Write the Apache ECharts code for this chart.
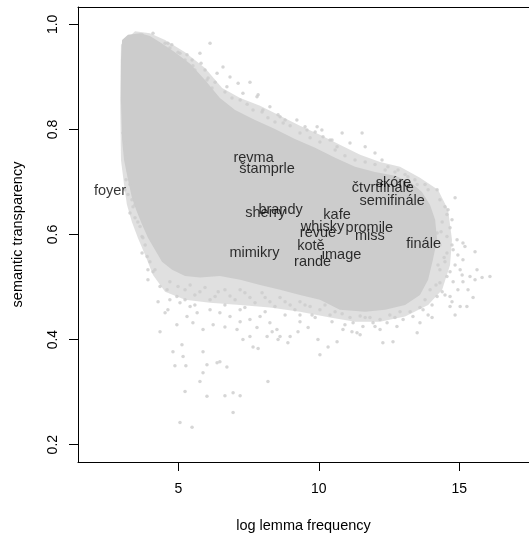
<!DOCTYPE html>
<html><head><meta charset="utf-8">
<script src="https://cdn.jsdelivr.net/npm/echarts@6/dist/echarts.min.js"></script>
<style>html,body{margin:0;padding:0;background:#fff}#c{width:529px;height:535px}</style>
</head><body><div id="c"></div>
<script>
// tick values
const xTicks = [5, 10, 15];
const yTicks = [0.2, 0.4, 0.6, 0.8, 1.0];

// dense core of the point cloud (outline)
const coreX = [3.00,3.21,3.64,3.99,4.35,4.88,5.42,5.95,6.48,7.02,7.73,8.44,9.15,9.87,10.58,11.29,12.00,12.71,13.25,13.67,13.96,14.14,14.21,14.06,13.89,13.60,13.07,12.36,11.65,10.75,10.04,9.33,8.62,7.91,7.20,6.48,5.77,5.24,4.78,4.42,4.17,3.92,3.71,3.53,3.35,3.21,3.07,3.00,2.96,2.96];
const coreY = [0.970,0.980,0.983,0.978,0.966,0.947,0.925,0.894,0.860,0.837,0.818,0.801,0.782,0.765,0.746,0.729,0.719,0.712,0.700,0.681,0.656,0.628,0.590,0.552,0.514,0.485,0.466,0.457,0.453,0.457,0.476,0.485,0.495,0.504,0.514,0.521,0.518,0.521,0.533,0.548,0.571,0.594,0.619,0.643,0.670,0.704,0.742,0.780,0.856,0.932];

// medium-density rim around the core (outline)
const rimX = [2.96,3.46,3.99,4.53,5.24,5.95,6.56,7.20,7.91,8.62,9.33,10.04,10.75,11.47,12.18,12.89,13.60,14.24,14.60,14.74,14.67,14.39,13.89,13.07,12.18,11.29,10.40,9.33,8.26,7.20,6.13,5.24,4.53,4.10,3.82,3.56,3.35,3.17,3.07,2.96,2.93];
const rimY = [0.961,0.987,0.983,0.970,0.947,0.917,0.879,0.860,0.845,0.826,0.807,0.790,0.771,0.752,0.738,0.729,0.708,0.685,0.647,0.590,0.542,0.495,0.466,0.444,0.434,0.434,0.442,0.453,0.461,0.466,0.470,0.476,0.491,0.523,0.561,0.594,0.624,0.657,0.695,0.742,0.856];

// scattered points outside the core
const upperX = [3.71,4.10,4.53,4.77,5.06,5.31,5.49,5.77,6.13,5.59,5.95,6.02,6.38,6.59,6.84,6.73,7.13,7.30,7.55,7.80,8.01,8.26,8.62,8.73,9.22,9.58,9.94,10.15,10.40,10.65,7.84,4.63,8.55,8.80,9.51,9.87,10.11,10.47,10.83,11.11,11.54,11.65,12.00,12.25,12.46,12.82,13.17,13.50,13.89,14.21,
  6.66,6.91,7.20,7.45,7.66,7.98,8.19,8.44,8.98,9.33,9.69,10.04,10.58,10.93,11.29,11.65,12.00,12.36,12.71,13.07,13.42,13.78,4.70,4.99,5.24,5.52,5.81,6.06,6.20,6.31];
const upperY = [0.980,0.983,0.964,0.961,0.945,0.942,0.932,0.945,0.964,0.913,0.913,0.894,0.907,0.919,0.900,0.881,0.888,0.869,0.890,0.862,0.837,0.843,0.824,0.812,0.818,0.799,0.805,0.786,0.780,0.767,0.866,0.964,0.828,0.818,0.805,0.795,0.799,0.780,0.793,0.774,0.793,0.767,0.755,0.742,0.729,0.723,0.710,0.695,0.685,0.685,
  0.871,0.860,0.856,0.848,0.837,0.833,0.822,0.814,0.807,0.793,0.784,0.776,0.761,0.750,0.742,0.738,0.733,0.723,0.719,0.714,0.704,0.695,0.955,0.947,0.932,0.921,0.926,0.898,0.879,0.890];

const rightX = [14.49,14.85,14.74,14.39,14.92,15.20,15.56,13.96,14.56,14.67,14.21,14.56,15.13,14.78,14.56,15.13,15.63,16.09,15.38,15.13,14.78,14.56,14.31,13.96,14.21,14.67,15.49,15.81,15.27,15.03,14.67,15.56,15.10,14.49,14.74,14.31,14.49,14.31,14.85,
  14.31,14.60,14.35,14.74,14.46,14.95,14.24,14.67,14.17,14.39,14.95,13.78,14.03,15.31,15.03];
const rightY = [0.653,0.670,0.628,0.624,0.590,0.577,0.567,0.641,0.638,0.613,0.603,0.596,0.584,0.571,0.565,0.552,0.533,0.520,0.520,0.510,0.510,0.520,0.508,0.495,0.482,0.482,0.480,0.518,0.463,0.463,0.463,0.514,0.523,0.485,0.472,0.580,0.548,0.533,0.542,
  0.666,0.647,0.605,0.580,0.556,0.561,0.542,0.529,0.504,0.491,0.495,0.476,0.466,0.495,0.533];

const lowerX = [13.71,13.35,13.00,12.78,12.43,12.18,11.93,11.57,11.22,11.36,10.86,10.65,12.28,12.64,13.50,13.60,8.19,10.04,10.33,8.90,9.97,9.26,9.62,8.55,8.34,11.18,11.47,12.00,11.65,10.47,10.93,13.89,14.03,14.85,7.66,7.84,7.30,6.66,6.24,5.88,5.52,5.31,5.67,5.42,5.06,4.95,6.13,6.48,6.84,7.20,7.55,7.91,8.26,8.51,8.62,8.98,9.33,9.76,8.16,7.80,7.09,7.55,7.20,5.88,5.24,5.59,5.95,6.31,6.66,7.02,7.37,7.73,8.09,8.44,8.80,9.15,9.51,10.04,10.40,11.11,12.53,13.25,
  4.70,4.99,5.42,5.77,6.13,6.42,6.84,7.20,7.55,7.98,8.26,8.62,8.98,9.33,9.69,9.87,10.22,10.58,10.83,11.47,11.82,12.18,12.71,12.89,13.60,5.24,5.59,6.66,7.37,8.09,8.80,9.33,4.70,4.63];
const lowerY = [0.457,0.444,0.438,0.425,0.432,0.419,0.432,0.425,0.432,0.413,0.419,0.396,0.394,0.396,0.413,0.432,0.320,0.371,0.386,0.394,0.400,0.415,0.423,0.400,0.415,0.415,0.409,0.425,0.442,0.434,0.428,0.447,0.442,0.447,0.386,0.383,0.400,0.424,0.428,0.419,0.432,0.444,0.451,0.463,0.470,0.482,0.457,0.451,0.444,0.457,0.438,0.444,0.432,0.419,0.406,0.406,0.434,0.447,0.406,0.423,0.419,0.406,0.434,0.377,0.495,0.485,0.499,0.482,0.495,0.476,0.489,0.470,0.480,0.463,0.472,0.457,0.466,0.457,0.447,0.442,0.447,0.453,
  0.510,0.501,0.504,0.491,0.476,0.491,0.483,0.495,0.480,0.489,0.472,0.480,0.466,0.472,0.463,0.442,0.466,0.453,0.449,0.445,0.442,0.438,0.442,0.453,0.461,0.476,0.466,0.466,0.461,0.453,0.447,0.447,0.476,0.457];

const leftX = [3.71,3.71,3.92,4.28,4.53,4.35,4.95,5.13,4.81,5.17,4.88,5.27,6.02,6.38,6.48,6.73,5.88,5.77,5.24,6.02,6.66,6.95,7.20,6.95,5.06,5.49,4.60,4.35,4.17,3.03,3.10,3.17,3.21,3.14,3.28,3.10,3.35,3.39,3.28,3.46,3.64,3.74,3.89,3.92,
  3.21,3.46,3.56,3.82,3.99,4.10];
const leftY = [0.596,0.565,0.514,0.472,0.451,0.415,0.428,0.390,0.377,0.368,0.350,0.350,0.352,0.356,0.358,0.348,0.337,0.320,0.301,0.292,0.293,0.299,0.293,0.261,0.242,0.233,0.495,0.501,0.533,0.793,0.774,0.748,0.723,0.704,0.695,0.685,0.666,0.653,0.641,0.632,0.615,0.594,0.558,0.533,
  0.676,0.657,0.624,0.580,0.548,0.529];

// word labels
const words = ['foyer','revma','štamprle','brandy','sherry','kafe','whisky','revue','promile','miss','kotě','mimikry','image','rande','čtvrtfinále','skóre','semifinále','finále'];
const wordX = [2.57,7.68,8.16,8.64,8.10,10.65,10.13,9.97,11.80,11.82,9.72,7.71,10.81,9.78,12.28,12.66,12.61,13.73];
const wordY = [0.683,0.746,0.725,0.647,0.641,0.637,0.615,0.603,0.613,0.598,0.578,0.565,0.561,0.547,0.689,0.698,0.664,0.582];

const FONT = '"Liberation Sans", Arial, Helvetica, sans-serif';
const GREY = '#cccccc';
const pairs = (xs, ys) => xs.map((x, i) => [x, ys[i]]);
const cloud = [].concat(pairs(upperX, upperY), pairs(rightX, rightY), pairs(lowerX, lowerY), pairs(leftX, leftY));

const polygonSeries = (xs, ys, opacity) => ({
  type: 'custom',
  clip: true,
  data: [[xs[0], ys[0]]],
  renderItem: (params, api) => ({
    type: 'polygon',
    shape: {points: xs.map((x, i) => api.coord([x, ys[i]])), smooth: 0},
    style: {fill: GREY, opacity: opacity}
  }),
  silent: true
});

const chart = echarts.init(document.getElementById('c'), null, {renderer: 'canvas'});
chart.setOption({
  animation: false,
  backgroundColor: '#fff',
  grid: {left: 78, right: 0, top: 7, bottom: 73, outerBoundsMode: 'none', containLabel: false},
  xAxis: [{
    type: 'value', min: 1.431, max: 17.48, position: 'bottom',
    axisLine: {show: true, onZero: false, lineStyle: {color: '#000', width: 1}},
    axisTick: {show: true, length: 9, customValues: xTicks, lineStyle: {color: '#000'}},
    axisLabel: {customValues: xTicks, margin: 20, fontSize: 14, color: '#000', fontFamily: FONT},
    splitLine: {show: false},
    name: 'log lemma frequency', nameLocation: 'middle', nameGap: 56,
    nameTextStyle: {fontSize: 14.5, color: '#000', fontFamily: FONT}
  }, {
    type: 'value', min: 1.431, max: 17.48, position: 'top',
    axisLine: {show: true, onZero: false, lineStyle: {color: '#000', width: 1}},
    axisTick: {show: false}, axisLabel: {show: false}, splitLine: {show: false}
  }],
  yAxis: {
    type: 'value', min: 0.167, max: 1.033,
    axisLine: {show: true, onZero: false, lineStyle: {color: '#000', width: 1}},
    axisTick: {show: true, length: 9, customValues: yTicks, lineStyle: {color: '#000'}},
    axisLabel: {customValues: yTicks, rotate: 90, margin: 18, fontSize: 14, color: '#000', fontFamily: FONT,
      formatter: v => v.toFixed(1)},
    splitLine: {show: false},
    name: 'semantic transparency', nameLocation: 'middle', nameGap: 53, nameRotate: 90,
    nameTextStyle: {fontSize: 14.5, color: '#000', fontFamily: FONT}
  },
  series: [
    polygonSeries(rimX, rimY, 0.6),
    polygonSeries(coreX, coreY, 1),
    {
      type: 'scatter',
      data: cloud,
      symbol: 'circle', symbolSize: 3.5,
      itemStyle: {color: GREY},
      silent: true
    }, {
      type: 'scatter',
      data: words.map((w, i) => ({name: w, value: [wordX[i], wordY[i]]})),
      symbol: 'circle', symbolSize: 1,
      itemStyle: {color: 'rgba(0,0,0,0)'},
      label: {show: true, position: 'inside', formatter: '{b}', color: '#000', fontSize: 14.5, fontFamily: FONT},
      silent: true
    }
  ]
});
</script></body></html>
